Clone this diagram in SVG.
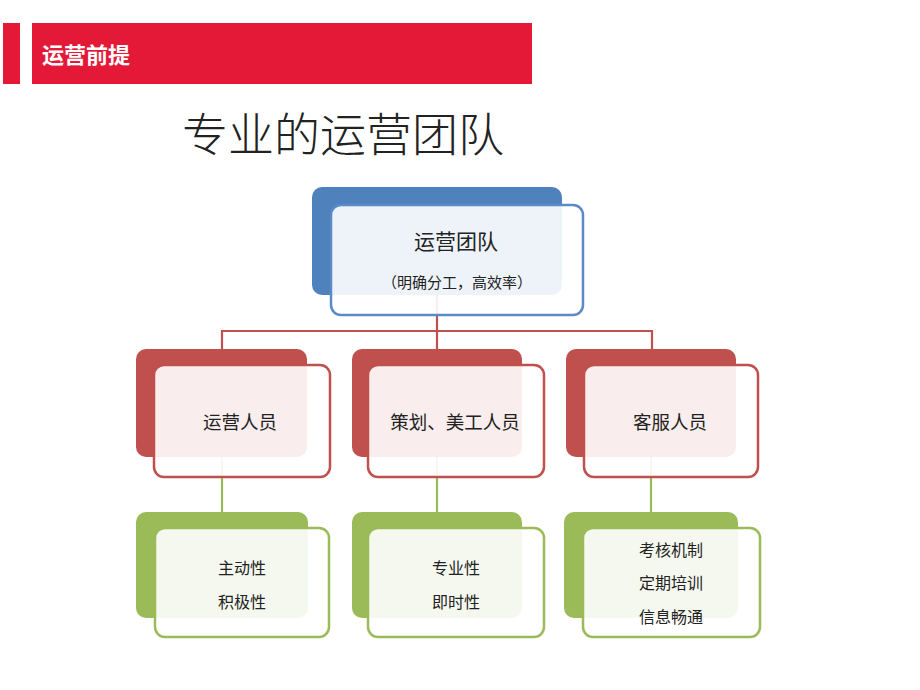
<svg xmlns="http://www.w3.org/2000/svg" width="920" height="690" viewBox="0 0 920 690">
<style>
text{font-family:"Noto Sans CJK SC","Noto Sans",sans-serif;fill:#222;text-anchor:middle;dominant-baseline:central}
.back{stroke:none}
.front{fill:#fff;fill-opacity:0.9;stroke-width:2.5}
.blue .back{fill:#4f81bd}.blue .front{stroke:#5b8bc6}
.red .back{fill:#c0504d}.red .front{stroke:#c0504d}
.green .back{fill:#9bbb59}.green .front{stroke:#9bbb59}
.lbl{font-size:18.5px}
.sm{font-size:16px}
.conn{fill:none;stroke-width:2.2}
</style>
<rect width="920" height="690" fill="#fff"/>
<g id="header">
<rect x="3" y="23" width="17" height="61" fill="#e31937"/>
<rect x="32" y="23" width="500" height="61" fill="#e31937"/>
<text x="42" y="53" style="fill:#fff;font-size:22px;font-weight:bold;text-anchor:start">运营前提</text>
</g>
<text id="title" x="343" y="131" style="font-size:46px;font-weight:300">专业的运营团队</text>
<g id="connectors">
<path class="conn" stroke="#c0504d" d="M437 295V331M222 349V331H652V349M437 331V349"/>
<path class="conn" stroke="#9bbb59" d="M222 457V512M437 457V512M651 457V512"/>
</g>
<g id="team" class="blue">
<rect class="back" x="312" y="187" width="250" height="108" rx="10"/>
<rect class="front" x="331" y="205" width="252" height="110" rx="10"/>
<text x="456" y="240" style="font-size:21px">运营团队</text>
<text x="457" y="281" style="font-size:15px">（明确分工，高效率）</text>
</g>
<g id="ops" class="red">
<rect class="back" x="136" y="349" width="171" height="108" rx="10"/>
<rect class="front" x="154" y="365" width="176" height="112" rx="10"/>
<text class="lbl" x="240" y="421">运营人员</text>
</g>
<g id="design" class="red">
<rect class="back" x="352" y="349" width="170" height="108" rx="10"/>
<rect class="front" x="368" y="365" width="176" height="112" rx="10"/>
<text class="lbl" x="455" y="421">策划、美工人员</text>
</g>
<g id="service" class="red">
<rect class="back" x="566" y="349" width="170" height="108" rx="10"/>
<rect class="front" x="584" y="365" width="174" height="112" rx="10"/>
<text class="lbl" x="670" y="421">客服人员</text>
</g>
<g id="ops-traits" class="green">
<rect class="back" x="136" y="512" width="172" height="106" rx="10"/>
<rect class="front" x="155" y="528" width="174" height="109" rx="10"/>
<text class="sm" x="242" y="567">主动性</text>
<text class="sm" x="242" y="601">积极性</text>
</g>
<g id="design-traits" class="green">
<rect class="back" x="352" y="512" width="170" height="106" rx="10"/>
<rect class="front" x="368" y="528" width="176" height="109" rx="10"/>
<text class="sm" x="456" y="567">专业性</text>
<text class="sm" x="456" y="601">即时性</text>
</g>
<g id="service-traits" class="green">
<rect class="back" x="564" y="512" width="174" height="106" rx="10"/>
<rect class="front" x="583" y="528" width="177" height="109" rx="10"/>
<text class="sm" x="671" y="549">考核机制</text>
<text class="sm" x="671" y="582">定期培训</text>
<text class="sm" x="671" y="616">信息畅通</text>
</g>
</svg>
